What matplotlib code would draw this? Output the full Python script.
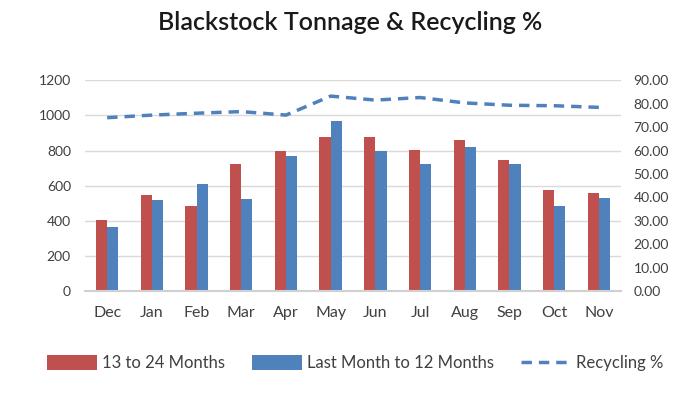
"""
Blackstock tonnage & recycling %
bars for two periods, dashed recycling line on a second axis
"""
import matplotlib
matplotlib.use("Agg")
import matplotlib.pyplot as plt
import numpy as np

plt.rcParams['font.family'] = ['Lato', 'DejaVu Sans']

# ----- data -----
months = ["Dec", "Jan", "Feb", "Mar", "Apr", "May", "Jun", "Jul", "Aug", "Sep", "Oct", "Nov"]
prev_year = [406, 546, 483, 726, 798, 878, 876, 804, 861, 747, 577, 557]
last_year = [366, 518, 612, 523, 768, 969, 795, 725, 819, 725, 484, 531]
recycling = [74.0, 75.1, 75.9, 76.6, 75.1, 83.2, 81.5, 82.6, 80.3, 79.3, 79.1, 78.4]

red = "#c0504d"
blue = "#4f81bd"
grey = "#404040"

fig = plt.figure(figsize=(6.73, 4.09), dpi=100)
ax = fig.add_axes([0.126, 0.288, 0.797, 0.516])

x = np.arange(len(months))
w = 0.25
ax.bar(x - w/2, prev_year, w, color=red, label="13 to 24 Months", zorder=2)
ax.bar(x + w/2, last_year, w, color=blue, label="Last Month to 12 Months", zorder=2)

ax.set_xlim(-0.5, len(months) - 0.5)
ax.set_ylim(0, 1200)
ax.set_yticks(range(0, 1201, 200))
ax.set_xticks(x)
ax.set_xticklabels(months)
ax.grid(axis="y", color="#d9d9d9", linewidth=1, zorder=0)
for s in ["top", "right", "left"]:
    ax.spines[s].set_visible(False)
ax.spines["bottom"].set_color("#d0d0d0")
ax.spines["bottom"].set_linewidth(1.5)
ax.tick_params(length=0, colors=grey, labelsize=10)
ax.tick_params(axis="y", pad=10)
ax.tick_params(axis="x", pad=11, labelsize=11.5)

ax2 = ax.twinx()
ax2.plot(x, recycling, color=blue, linestyle=(0, (3, 2)), linewidth=2.5,
         label="Recycling %")
ax2.set_ylim(0, 90)
ax2.set_yticks(range(0, 91, 10))
ax2.set_yticklabels([f"{v:.2f}" for v in range(0, 91, 10)])
for s in ax2.spines.values():
    s.set_visible(False)
ax2.tick_params(length=0, colors=grey, labelsize=10, pad=9)

fig.text(0.52, 0.945, "Blackstock Tonnage & Recycling %", ha="center", va="center",
         fontsize=18, fontweight="semibold", color="#1a1a1a")

h1, l1 = ax.get_legend_handles_labels()
h2, l2 = ax2.get_legend_handles_labels()
fig.legend(h1 + h2, l1 + l2, loc="center", bbox_to_anchor=(0.528, 0.112), ncol=3,
           frameon=False, fontsize=12, handlelength=3.0, handleheight=1.0,
           columnspacing=1.6, handletextpad=0.3, labelcolor=grey)

plt.savefig("out.png", dpi=100)
